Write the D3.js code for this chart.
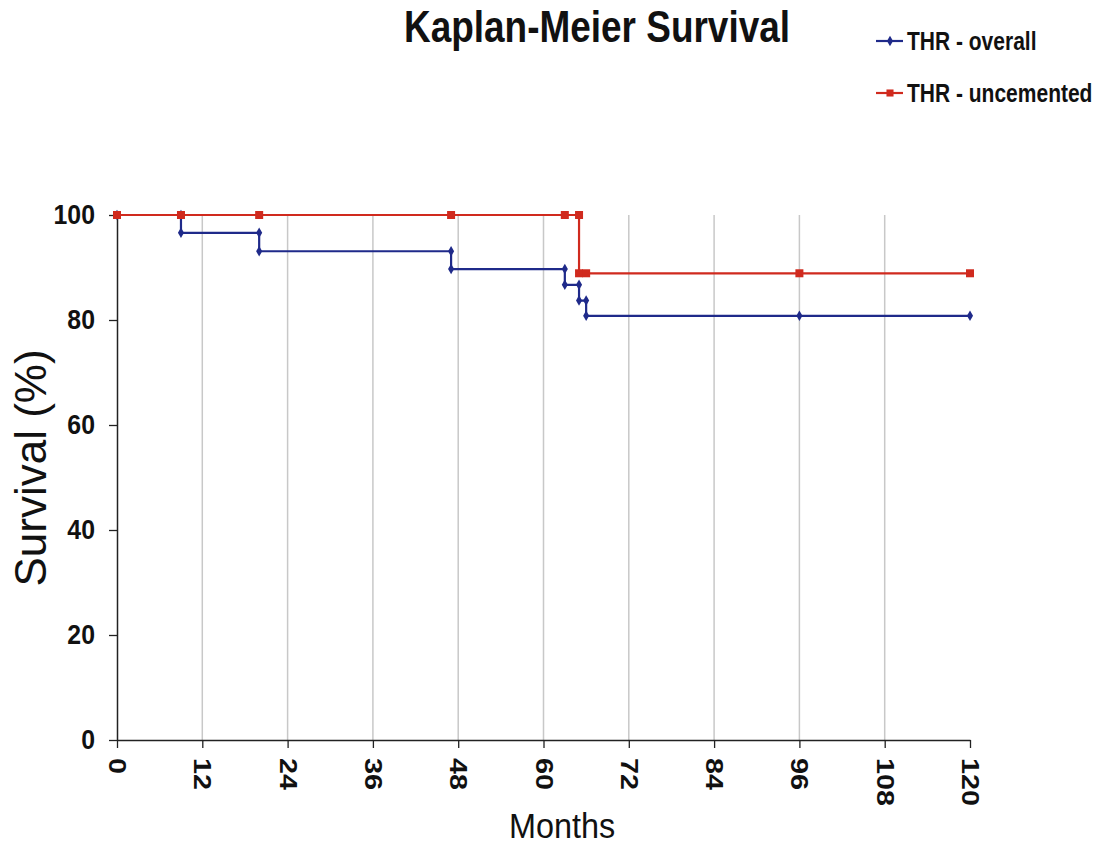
<!DOCTYPE html>
<html>
<head>
<meta charset="utf-8">
<script src="https://cdn.jsdelivr.net/npm/d3@7"></script>
<style>
  body { margin: 0; background: #fff; }
  text { font-family: "Liberation Sans", Arial, sans-serif; }
</style>
</head>
<body>
<div id="chart"></div>
<script>
// Kaplan-Meier steps (months, survival %)
const overallMonths = [0, 9, 9, 20, 20, 47, 47, 63, 63, 65, 65, 66, 66, 96, 120];
const overallSurv   = [100, 100, 96.6, 96.6, 93.1, 93.1, 89.7, 89.7, 86.7, 86.7, 83.7, 83.7, 80.8, 80.8, 80.8];
const uncemMonths = [0, 9, 20, 47, 63, 65, 65, 66, 96, 120];
const uncemSurv   = [100, 100, 100, 100, 100, 100, 88.9, 88.9, 88.9, 88.9];
const xTicks = [0, 12, 24, 36, 48, 60, 72, 84, 96, 108, 120];
const yTicks = [0, 20, 40, 60, 80, 100];
const seriesNames = ["THR - overall", "THR - uncemented"];

const W = 1095, H = 849;
const margin = {top: 215, right: 125, bottom: 109, left: 117};
const width = W - margin.left - margin.right,
      height = H - margin.top - margin.bottom;

// the original picture is squeezed sideways, so text gets a horizontal scale
const squeeze = 0.84;

const svg = d3.select("#chart").append("svg")
  .attr("width", W).attr("height", H);

const g = svg.append("g")
  .attr("transform", "translate(" + margin.left + "," + margin.top + ")");

const x = d3.scaleLinear().domain([0, 120]).range([0, width]);
const y = d3.scaleLinear().domain([0, 100]).range([height, 0]);

// vertical gridlines
g.selectAll(".grid")
  .data(xTicks.filter(d => d > 0 && d < 120))
  .enter().append("line")
  .attr("class", "grid")
  .attr("x1", d => x(d)).attr("x2", d => x(d))
  .attr("y1", 0).attr("y2", height)
  .attr("stroke", "#c8c8c8").attr("stroke-width", 1.5);

// x axis
const xAxis = g.append("g")
  .attr("transform", "translate(0," + height + ")")
  .call(d3.axisBottom(x).tickValues(xTicks).tickSizeInner(8).tickSizeOuter(0));
xAxis.select(".domain").attr("stroke", "#222").attr("stroke-width", 1.5);
xAxis.selectAll(".tick line").attr("stroke", "#222").attr("stroke-width", 1.3);
xAxis.selectAll(".tick text")
  .attr("transform", "translate(0,18) rotate(90) scale(1.2,1)")
  .attr("x", 0).attr("y", 0).attr("dy", "0.35em")
  .style("text-anchor", "start")
  .style("font-size", "24px").style("font-weight", "bold")
  .attr("fill", "#111");

// y axis
const yAxis = g.append("g")
  .call(d3.axisLeft(y).tickValues(yTicks).tickSizeInner(8).tickSizeOuter(0));
yAxis.select(".domain").attr("stroke", "#222").attr("stroke-width", 1.5);
yAxis.selectAll(".tick line").attr("stroke", "#222").attr("stroke-width", 1.3);
yAxis.selectAll(".tick text")
  .attr("x", 0)
  .attr("transform", "translate(-22,0) scale(0.92,1)")
  .style("font-size", "27px").style("font-weight", "bold")
  .attr("fill", "#111");

const line = d3.line()
  .x(d => x(d[0]))
  .y(d => y(d[1]));

const overall = overallMonths.map((m, i) => [m, overallSurv[i]]);
const uncem = uncemMonths.map((m, i) => [m, uncemSurv[i]]);

const blue = "#1f2a8a", red = "#d02a1e";

g.append("path").datum(overall)
  .attr("fill", "none").attr("stroke", blue).attr("stroke-width", 2.2)
  .attr("d", line);

g.selectAll(".pt-o").data(overall).enter().append("path")
  .attr("class", "pt-o")
  .attr("d", d3.symbol().type(d3.symbolDiamond).size(32)())
  .attr("transform", d => "translate(" + x(d[0]) + "," + y(d[1]) + ")")
  .attr("fill", blue);

g.append("path").datum(uncem)
  .attr("fill", "none").attr("stroke", red).attr("stroke-width", 2.2)
  .attr("d", line);

g.selectAll(".pt-u").data(uncem).enter().append("rect")
  .attr("class", "pt-u")
  .attr("x", d => x(d[0]) - 4).attr("y", d => y(d[1]) - 4)
  .attr("width", 8).attr("height", 8)
  .attr("fill", red);

// title
svg.append("text")
  .attr("transform", "translate(597,42) scale(" + squeeze + ",1)")
  .attr("text-anchor", "middle")
  .style("font-size", "44px").style("font-weight", "bold")
  .attr("fill", "#111")
  .text("Kaplan-Meier Survival");

// axis titles
svg.append("text")
  .attr("transform", "translate(46,468) rotate(-90)")
  .attr("text-anchor", "middle")
  .style("font-size", "44px")
  .attr("fill", "#111")
  .text("Survival (%)");

svg.append("text")
  .attr("transform", "translate(562,838) scale(0.9,1)")
  .attr("text-anchor", "middle")
  .style("font-size", "36px")
  .attr("fill", "#111")
  .text("Months");

// legend
const legend = svg.selectAll(".legend")
  .data(seriesNames)
  .enter().append("g")
  .attr("class", "legend")
  .attr("transform", (d, i) => "translate(876," + (41 + i * 52) + ")");

legend.append("line")
  .attr("x1", 0).attr("x2", 27).attr("y1", 0).attr("y2", 0)
  .attr("stroke", (d, i) => i === 0 ? blue : red).attr("stroke-width", 2.2);

legend.append("path")
  .attr("d", (d, i) => d3.symbol().type(i === 0 ? d3.symbolDiamond : d3.symbolSquare).size(i === 0 ? 32 : 50)())
  .attr("transform", "translate(14,0)")
  .attr("fill", (d, i) => i === 0 ? blue : red);

legend.append("text")
  .attr("transform", "translate(31,0) scale(" + squeeze + ",1)")
  .attr("dy", "0.35em")
  .style("font-size", "25px").style("font-weight", "bold")
  .attr("fill", "#111")
  .text(d => d);
</script>
</body>
</html>
